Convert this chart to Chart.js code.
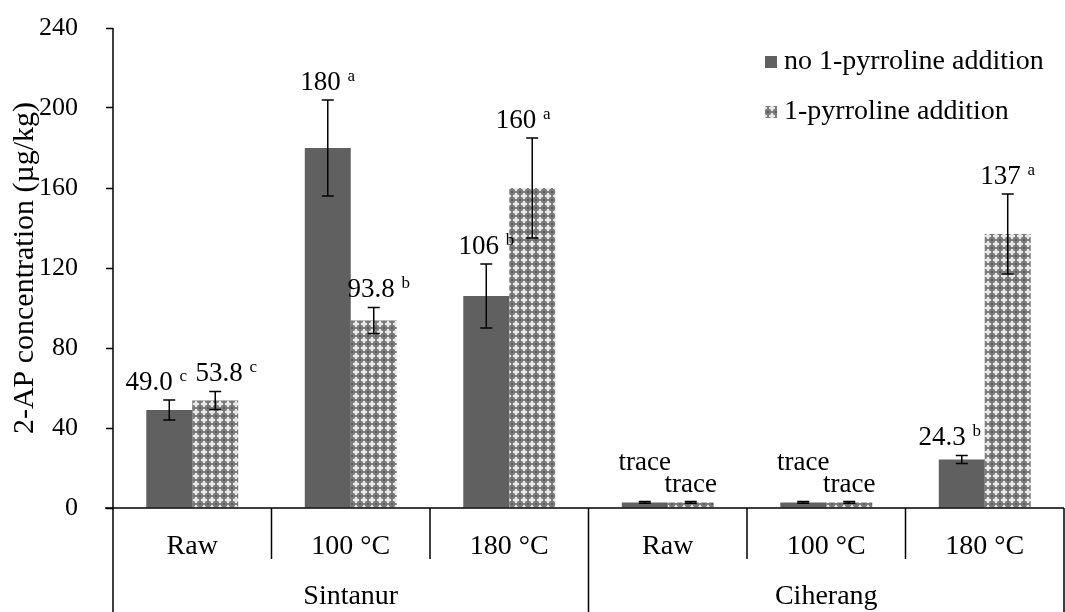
<!DOCTYPE html>
<html>
<head>
<meta charset="utf-8">
<script src="https://cdn.jsdelivr.net/npm/chart.js@4.4.0/dist/chart.umd.min.js"></script>
<style>
  html, body { margin: 0; padding: 0; background: #fff; }
  #wrap { width: 1065px; height: 612px; }
</style>
</head>
<body>
<div id="wrap"><canvas id="myChart"></canvas></div>
<script>
const categories = ['Raw', '100 °C', '180 °C', 'Raw', '100 °C', '180 °C'];
const varieties = ['Sintanur', 'Ciherang'];
const groupSize = 3;
const seriesNames = ['no 1-pyrroline addition', '1-pyrroline addition'];

const noAddition = [49.0, 180, 106, 2.8, 2.8, 24.3];
const noAdditionErr = [5, 24, 16, 0.4, 0.4, 2];
const noAdditionSig = ['c', 'a', 'b', '', '', 'b'];

const withAddition = [53.8, 93.8, 160, 2.8, 2.8, 137];
const withAdditionErr = [4.5, 6.5, 25, 0.4, 0.4, 20];
const withAdditionSig = ['c', 'b', 'a', '', '', 'a'];

const traceLevel = 5;
const yTicks = [0, 40, 80, 120, 160, 200, 240];

const FONT = "'Liberation Serif', 'Times New Roman', serif";

// checker/diamond fill for the 1-pyrroline bars
function makePattern() {
    const c = document.createElement('canvas');
    c.width = 8; c.height = 8;
    const g = c.getContext('2d');
    g.fillStyle = '#7c7c7c';
    g.fillRect(0, 0, 8, 8);
    g.fillStyle = '#e8e8e8';
    g.fillRect(3, 1, 2, 6);
    g.fillRect(1, 3, 6, 2);
    g.fillStyle = '#b4b4b4';
    g.fillRect(2, 2, 1, 1);
    g.fillRect(5, 2, 1, 1);
    g.fillRect(2, 5, 1, 1);
    g.fillRect(5, 5, 1, 1);
    g.fillStyle = '#5a5a5a';
    g.fillRect(0, 0, 1, 1);
    g.fillRect(7, 7, 1, 1);
    g.fillRect(7, 0, 1, 1);
    g.fillRect(0, 7, 1, 1);
    return g.createPattern(c, 'repeat');
}
const checker = makePattern();

// error bars + value labels with significance letters
const annotate = {
    id: 'annotate',
    afterDatasetsDraw(chart, args, opts) {
        const ctx = chart.ctx;
        const y = chart.scales.y;
        chart.data.datasets.forEach((ds, di) => {
            const meta = chart.getDatasetMeta(di);
            meta.data.forEach((bar, i) => {
                const v = ds.data[i], e = ds.errors[i];
                const top = y.getPixelForValue(v + e);
                const bot = y.getPixelForValue(v - e);
                ctx.save();
                ctx.strokeStyle = '#000';
                ctx.lineWidth = 1.5;
                ctx.beginPath();
                ctx.moveTo(bar.x, top); ctx.lineTo(bar.x, bot);
                ctx.moveTo(bar.x - 6, top); ctx.lineTo(bar.x + 6, top);
                ctx.moveTo(bar.x - 6, bot); ctx.lineTo(bar.x + 6, bot);
                ctx.stroke();

                const txt = v < traceLevel ? 'trace' : v.toPrecision(3);
                const sup = ds.sig[i];
                const [dx, dy] = opts.shift[di][i];
                ctx.font = '27px ' + FONT;
                const w1 = ctx.measureText(txt).width;
                const wsp = ctx.measureText(' ').width;
                ctx.font = '17px ' + FONT;
                const w2 = sup ? ctx.measureText(sup).width : 0;
                const total = w1 + (sup ? wsp + w2 : 0);
                const x0 = bar.x + dx - total / 2;
                const base = top - 19 + dy + 9;
                ctx.fillStyle = '#000';
                ctx.textBaseline = 'alphabetic';
                ctx.textAlign = 'left';
                ctx.font = '27px ' + FONT;
                ctx.fillText(txt, x0, base);
                if (sup) {
                    ctx.font = '17px ' + FONT;
                    ctx.fillText(sup, x0 + w1 + wsp, base - 9);
                }
                ctx.restore();
            });
        });
    }
};

// axis lines, category separators and the two-level category labels
const axes = {
    id: 'axes',
    afterDraw(chart) {
        const ctx = chart.ctx;
        const a = chart.chartArea;
        const x = chart.scales.x;
        const H = chart.height;
        const n = categories.length;
        const step = x.getPixelForValue(1) - x.getPixelForValue(0);
        ctx.save();
        ctx.strokeStyle = '#000';
        ctx.lineWidth = 1.5;
        ctx.beginPath();
        ctx.moveTo(a.left, a.top); ctx.lineTo(a.left, H);
        ctx.moveTo(a.left - 8, a.bottom); ctx.lineTo(a.right, a.bottom);
        for (let i = 1; i <= n; i++) {
            const bx = x.getPixelForValue(i) - step / 2;
            const full = i % groupSize === 0;
            ctx.moveTo(bx, a.bottom);
            ctx.lineTo(bx, full ? H : a.bottom + 51);
        }
        ctx.stroke();

        ctx.fillStyle = '#000';
        ctx.font = '28px ' + FONT;
        ctx.textAlign = 'center';
        ctx.textBaseline = 'middle';
        categories.forEach((c, i) => {
            ctx.fillText(c, x.getPixelForValue(i), a.bottom + 39);
        });
        varieties.forEach((v, g) => {
            const cx = (x.getPixelForValue(g * groupSize) + x.getPixelForValue(g * groupSize + groupSize - 1)) / 2;
            ctx.fillText(v, cx, a.bottom + 89);
        });
        ctx.restore();
    }
};

// legend drawn inside the plot, top right
const boxLegend = {
    id: 'boxLegend',
    afterDraw(chart, args, opts) {
        const ctx = chart.ctx;
        ctx.save();
        ctx.font = '28px ' + FONT;
        ctx.textBaseline = 'middle';
        ctx.textAlign = 'left';
        chart.data.datasets.forEach((ds, i) => {
            const yy = opts.y[i];
            ctx.fillStyle = ds.backgroundColor;
            ctx.fillRect(opts.x, yy - 6, 12, 12);
            ctx.fillStyle = '#000';
            ctx.fillText(ds.label, opts.x + 19, yy);
        });
        ctx.restore();
    }
};

const ctx = document.getElementById('myChart').getContext('2d');
const chart = new Chart(ctx, {
    type: 'bar',
    data: {
        labels: categories,
        datasets: [
            {
                label: seriesNames[0],
                data: noAddition,
                errors: noAdditionErr,
                sig: noAdditionSig,
                backgroundColor: '#606060',
                borderWidth: 0
            },
            {
                label: seriesNames[1],
                data: withAddition,
                errors: withAdditionErr,
                sig: withAdditionSig,
                backgroundColor: checker,
                borderWidth: 0
            }
        ]
    },
    options: {
        responsive: true,
        maintainAspectRatio: false,
        animation: false,
        events: [],
        layout: { padding: { top: 28, right: 1, left: 0, bottom: 0 } },
        datasets: { bar: { barPercentage: 1, categoryPercentage: 0.58 } },
        scales: {
            x: {
                ticks: { display: false },
                grid: { display: false },
                border: { display: false },
                afterFit: (s) => { s.height = 104; }
            },
            y: {
                min: 0,
                max: 240,
                afterBuildTicks: (s) => { s.ticks = yTicks.map(v => ({ value: v })); },
                afterFit: (s) => {
                    s.width = 113;
                    s.paddingTop = 0;
                    s.paddingBottom = 0;
                },
                ticks: {
                    color: '#000',
                    padding: 28,
                    font: { family: FONT, size: 26 }
                },
                grid: {
                    display: true,
                    drawOnChartArea: false,
                    drawTicks: true,
                    tickLength: 7,
                    tickColor: '#000',
                    tickWidth: 1.5
                },
                border: { display: false },
                title: {
                    display: true,
                    text: '2-AP concentration (µg/kg)',
                    color: '#000',
                    font: { family: FONT, size: 30 },
                    padding: { top: 7, bottom: 0 }
                }
            }
        },
        plugins: {
            legend: { display: false },
            tooltip: { enabled: false },
            annotate: {
                shift: [
                    [[-13, 0], [0, 0], [0, 0], [0, -22], [0, -22], [-12, 0]],
                    [[11, 0], [5, 0], [-9, 0], [0, 0], [0, 0], [0, 0]]
                ]
            },
            boxLegend: { x: 765, y: [62, 112] }
        }
    },
    plugins: [annotate, axes, boxLegend]
});
</script>
</body>
</html>
